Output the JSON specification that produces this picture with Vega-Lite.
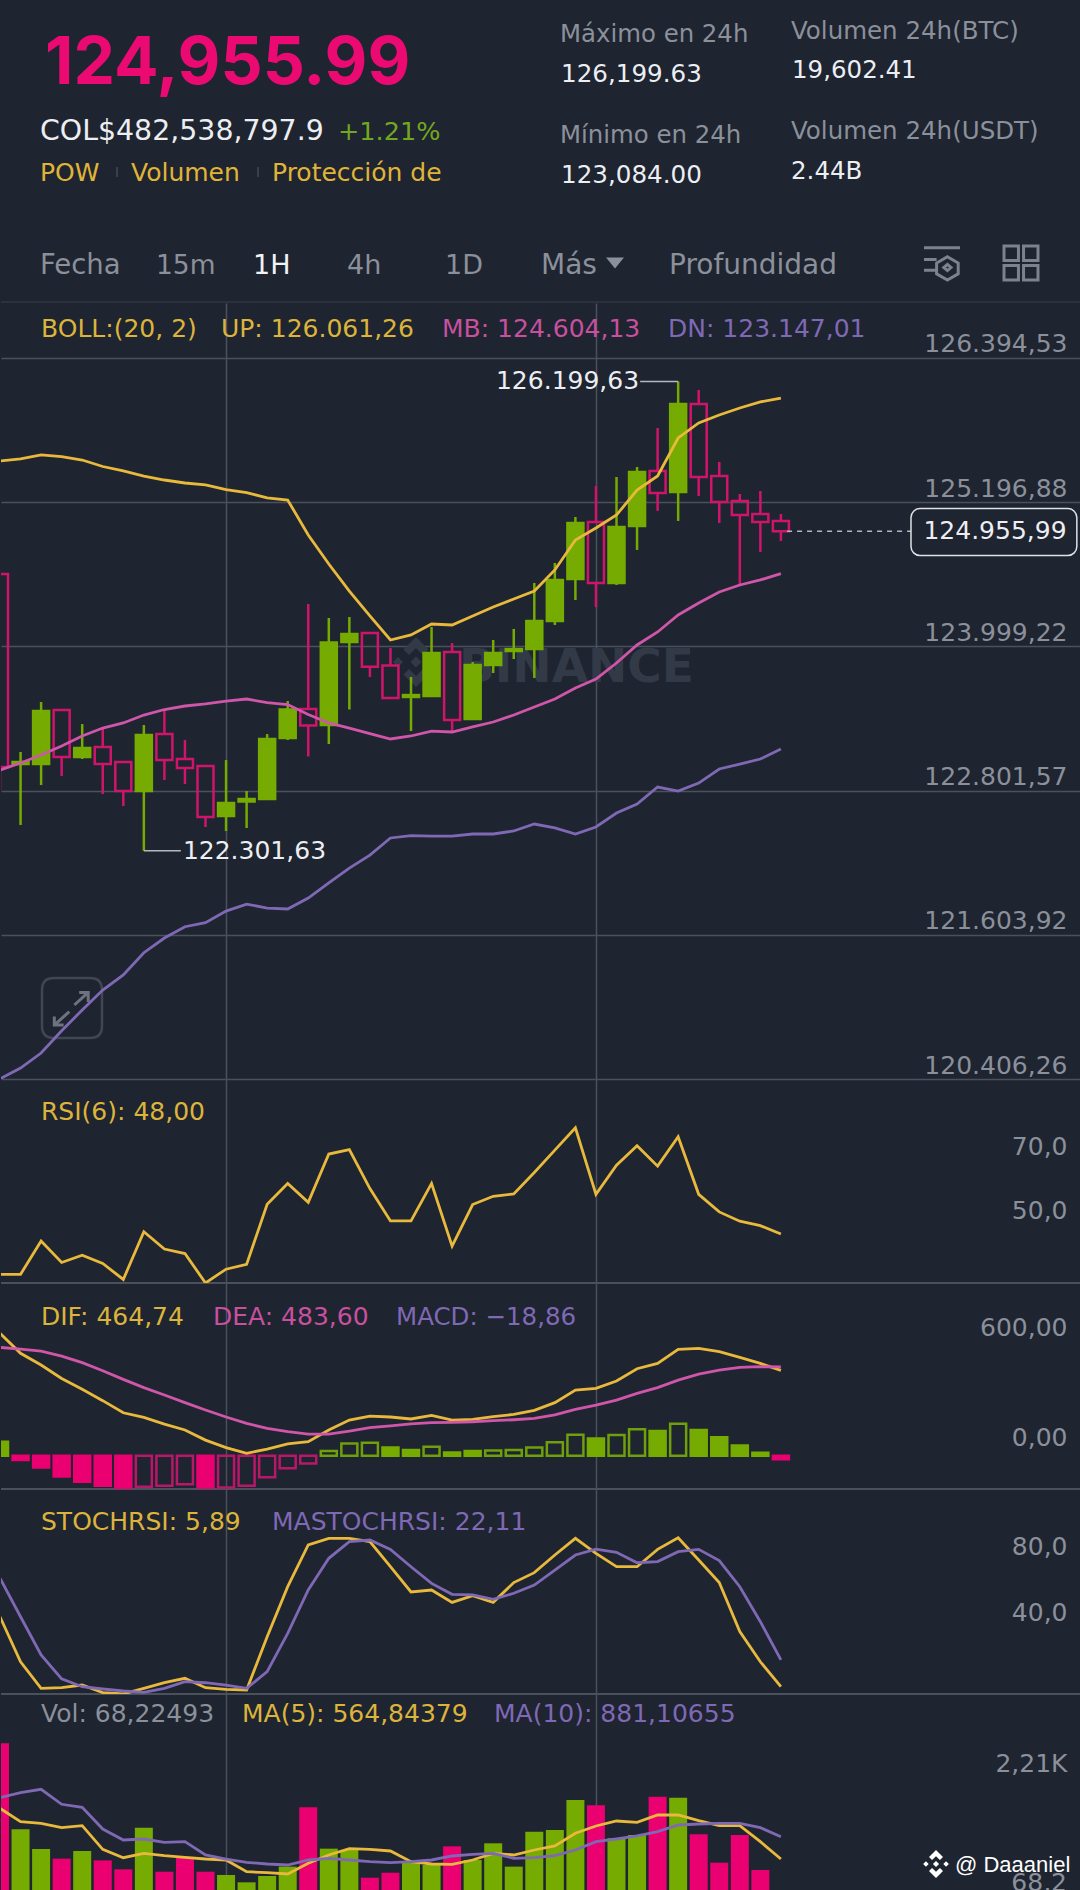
{
"$schema":"https://vega.github.io/schema/vega-lite/v6.json",
"background":"#1e2430",
"padding":0,
"spacing":0,
"bounds":"flush",
"config":{
 "view":{"stroke":null},
 "locale":{"number":{"decimal":",","thousands":".","grouping":[3],"currency":["",""]}},
 "text":{"font":"DejaVu Sans","fontSize":25,"align":"left","baseline":"alphabetic"},
 "axis":{"labelFont":"DejaVu Sans","labelFontSize":25,"labelColor":"#8b909a","domain":false,"ticks":false,"gridColor":"#4b515c","gridWidth":1.5,"labelOverlap":false,"labelFlush":false,"labelBound":false}
},
"resolve":{"scale":{"fill":"independent","stroke":"independent"}},
"datasets":{
"candles":[
{"t":0,"high":124600,"top":124600,"bot":122997,"low":122806,"dir":"down","boll_up":125539,"boll_mb":122972,"boll_dn":120408},
{"t":1,"high":123122,"top":123039,"bot":123022,"low":122516,"dir":"up","boll_up":125556,"boll_mb":123031,"boll_dn":120497},
{"t":2,"high":123537,"top":123462,"bot":123022,"low":122848,"dir":"up","boll_up":125589,"boll_mb":123097,"boll_dn":120622},
{"t":3,"high":123471,"top":123471,"bot":123080,"low":122923,"dir":"down","boll_up":125576,"boll_mb":123172,"boll_dn":120807},
{"t":4,"high":123354,"top":123155,"bot":123080,"low":123064,"dir":"up","boll_up":125547,"boll_mb":123255,"boll_dn":120979},
{"t":5,"high":123330,"top":123163,"bot":123022,"low":122773,"dir":"down","boll_up":125493,"boll_mb":123321,"boll_dn":121145},
{"t":6,"high":123039,"top":123039,"bot":122798,"low":122673,"dir":"down","boll_up":125456,"boll_mb":123363,"boll_dn":121270},
{"t":7,"high":123346,"top":123263,"bot":122798,"low":122301.63,"dir":"up","boll_up":125414,"boll_mb":123429,"boll_dn":121455},
{"t":8,"high":123471,"top":123271,"bot":123055,"low":122889,"dir":"down","boll_up":125381,"boll_mb":123475,"boll_dn":121577},
{"t":9,"high":123222,"top":123064,"bot":122989,"low":122856,"dir":"down","boll_up":125356,"boll_mb":123504,"boll_dn":121671},
{"t":10,"high":123014,"top":123006,"bot":122582,"low":122499,"dir":"down","boll_up":125340,"boll_mb":123521,"boll_dn":121704},
{"t":11,"high":123055,"top":122698,"bot":122590,"low":122466,"dir":"up","boll_up":125302,"boll_mb":123545,"boll_dn":121801},
{"t":12,"high":122798,"top":122732,"bot":122711,"low":122491,"dir":"up","boll_up":125277,"boll_mb":123562,"boll_dn":121859},
{"t":13,"high":123271,"top":123230,"bot":122732,"low":122730,"dir":"up","boll_up":125232,"boll_mb":123532,"boll_dn":121826},
{"t":14,"high":123545,"top":123475,"bot":123238,"low":123222,"dir":"up","boll_up":125215,"boll_mb":123516,"boll_dn":121818},
{"t":15,"high":124351,"top":123479,"bot":123342,"low":123085,"dir":"down","boll_up":124924,"boll_mb":123433,"boll_dn":121909},
{"t":16,"high":124235,"top":124031,"bot":123346,"low":123188,"dir":"up","boll_up":124683,"boll_mb":123363,"boll_dn":122036},
{"t":17,"high":124243,"top":124102,"bot":124036,"low":123475,"dir":"up","boll_up":124459,"boll_mb":123321,"boll_dn":122158},
{"t":18,"high":124119,"top":124110,"bot":123831,"low":123745,"dir":"down","boll_up":124252,"boll_mb":123275,"boll_dn":122266},
{"t":19,"high":123986,"top":123840,"bot":123570,"low":123562,"dir":"down","boll_up":124052,"boll_mb":123230,"boll_dn":122408},
{"t":20,"high":123745,"top":123595,"bot":123579,"low":123296,"dir":"up","boll_up":124094,"boll_mb":123255,"boll_dn":122427},
{"t":21,"high":124160,"top":123944,"bot":123587,"low":123583,"dir":"up","boll_up":124185,"boll_mb":123296,"boll_dn":122424},
{"t":22,"high":124027,"top":123952,"bot":123388,"low":123296,"dir":"down","boll_up":124177,"boll_mb":123288,"boll_dn":122424},
{"t":23,"high":123869,"top":123845,"bot":123396,"low":123392,"dir":"up","boll_up":124252,"boll_mb":123330,"boll_dn":122441},
{"t":24,"high":124052,"top":123944,"bot":123845,"low":123778,"dir":"up","boll_up":124326,"boll_mb":123371,"boll_dn":122441},
{"t":25,"high":124144,"top":123977,"bot":123961,"low":123894,"dir":"up","boll_up":124393,"boll_mb":123429,"boll_dn":122466},
{"t":26,"high":124526,"top":124210,"bot":123977,"low":123737,"dir":"up","boll_up":124459,"boll_mb":123496,"boll_dn":122524},
{"t":27,"high":124692,"top":124551,"bot":124210,"low":124177,"dir":"up","boll_up":124634,"boll_mb":123562,"boll_dn":122491},
{"t":28,"high":125074,"top":125024,"bot":124559,"low":124384,"dir":"up","boll_up":124883,"boll_mb":123653,"boll_dn":122441},
{"t":29,"high":125331,"top":125032,"bot":124526,"low":124326,"dir":"down","boll_up":124982,"boll_mb":123728,"boll_dn":122499},
{"t":30,"high":125406,"top":124991,"bot":124526,"low":124509,"dir":"up","boll_up":125090,"boll_mb":123861,"boll_dn":122615},
{"t":31,"high":125489,"top":125448,"bot":124999,"low":124800,"dir":"up","boll_up":125298,"boll_mb":124011,"boll_dn":122690},
{"t":32,"high":125813,"top":125456,"bot":125273,"low":125124,"dir":"down","boll_up":125414,"boll_mb":124119,"boll_dn":122831},
{"t":33,"high":126199.63,"top":126012,"bot":125281,"low":125041,"dir":"up","boll_up":125730,"boll_mb":124260,"boll_dn":122798},
{"t":34,"high":126129,"top":126012,"bot":125406,"low":125248,"dir":"down","boll_up":125855,"boll_mb":124359,"boll_dn":122864},
{"t":35,"high":125531,"top":125414,"bot":125198,"low":125024,"dir":"down","boll_up":125921,"boll_mb":124451,"boll_dn":122981},
{"t":36,"high":125265,"top":125207,"bot":125090,"low":124509,"dir":"down","boll_up":125979,"boll_mb":124509,"boll_dn":123022},
{"t":37,"high":125290,"top":125099,"bot":125032,"low":124783,"dir":"down","boll_up":126029,"boll_mb":124551,"boll_dn":123064},
{"t":38,"high":125099,"top":125041,"bot":124955.99,"low":124874,"dir":"down","boll_up":126061.26,"boll_mb":124604.13,"boll_dn":123147.01}
],
"rsi":[
{"t":0,"rsi":35.4},{"t":1,"rsi":35.4},{"t":2,"rsi":45.8},{"t":3,"rsi":39.1},{"t":4,"rsi":41.4},{"t":5,"rsi":38.8},{"t":6,"rsi":33.8},{"t":7,"rsi":48.7},{"t":8,"rsi":43.3},{"t":9,"rsi":41.9},
{"t":10,"rsi":32.7},{"t":11,"rsi":37},{"t":12,"rsi":38.5},{"t":13,"rsi":57.3},{"t":14,"rsi":63.8},{"t":15,"rsi":57.9},{"t":16,"rsi":73},{"t":17,"rsi":74.4},{"t":18,"rsi":62.2},{"t":19,"rsi":52.1},
{"t":20,"rsi":52.1},{"t":21,"rsi":63.8},{"t":22,"rsi":44.2},{"t":23,"rsi":57.2},{"t":24,"rsi":59.8},{"t":25,"rsi":60.5},{"t":26,"rsi":67.2},{"t":27,"rsi":74.2},{"t":28,"rsi":81.2},{"t":29,"rsi":60.4},
{"t":30,"rsi":69.5},{"t":31,"rsi":75.6},{"t":32,"rsi":69.2},{"t":33,"rsi":78.4},{"t":34,"rsi":60.4},{"t":35,"rsi":54.9},{"t":36,"rsi":52},{"t":37,"rsi":50.6},{"t":38,"rsi":48}
],
"macd":[
{"t":0,"macd":76,"kind":"pos_fall","dif":667,"dea":590},{"t":1,"macd":-24,"kind":"neg_fall","dif":558,"dea":581},{"t":2,"macd":-64,"kind":"neg_fall","dif":494,"dea":570},{"t":3,"macd":-114,"kind":"neg_fall","dif":421,"dea":543},
{"t":4,"macd":-142,"kind":"neg_fall","dif":362,"dea":507},{"t":5,"macd":-164,"kind":"neg_fall","dif":300,"dea":463},{"t":6,"macd":-180,"kind":"neg_fall","dif":234,"dea":416},{"t":7,"macd":-169,"kind":"neg_rise","dif":209,"dea":371},
{"t":8,"macd":-164,"kind":"neg_rise","dif":172,"dea":331},{"t":9,"macd":-156,"kind":"neg_rise","dif":140,"dea":289},{"t":10,"macd":-173,"kind":"neg_fall","dif":85,"dea":249},{"t":11,"macd":-174,"kind":"neg_rise","dif":44,"dea":211},
{"t":12,"macd":-164,"kind":"neg_rise","dif":13,"dea":176},{"t":13,"macd":-118,"kind":"neg_rise","dif":36,"dea":149},{"t":14,"macd":-69,"kind":"neg_rise","dif":64,"dea":131},{"t":15,"macd":-42,"kind":"neg_rise","dif":76,"dea":118},
{"t":16,"macd":25,"kind":"pos_rise","dif":140,"dea":118},{"t":17,"macd":67,"kind":"pos_rise","dif":194,"dea":134},{"t":18,"macd":71,"kind":"pos_rise","dif":216,"dea":153},{"t":19,"macd":45,"kind":"pos_fall","dif":211,"dea":163},
{"t":20,"macd":31,"kind":"pos_fall","dif":200,"dea":173},{"t":21,"macd":49,"kind":"pos_rise","dif":220,"dea":180},{"t":22,"macd":18,"kind":"pos_fall","dif":194,"dea":182},{"t":23,"macd":25,"kind":"pos_fall","dif":198,"dea":185},
{"t":24,"macd":29,"kind":"pos_rise","dif":213,"dea":191},{"t":25,"macd":31,"kind":"pos_rise","dif":225,"dea":196},{"t":26,"macd":45,"kind":"pos_rise","dif":247,"dea":203},{"t":27,"macd":73,"kind":"pos_rise","dif":289,"dea":222},
{"t":28,"macd":114,"kind":"pos_rise","dif":358,"dea":252},{"t":29,"macd":94,"kind":"pos_fall","dif":367,"dea":276},{"t":30,"macd":113,"kind":"pos_rise","dif":407,"dea":303},{"t":31,"macd":144,"kind":"pos_rise","dif":474,"dea":340},
{"t":32,"macd":134,"kind":"pos_fall","dif":503,"dea":371},{"t":33,"macd":174,"kind":"pos_rise","dif":580,"dea":412},{"t":34,"macd":140,"kind":"pos_fall","dif":585,"dea":445},{"t":35,"macd":100,"kind":"pos_fall","dif":567,"dea":467},
{"t":36,"macd":56,"kind":"pos_fall","dif":536,"dea":481},{"t":37,"macd":16,"kind":"pos_fall","dif":503,"dea":485},{"t":38,"macd":-18.86,"kind":"neg_fall","dif":464.74,"dea":483.6}
],
"stoch":[
{"t":0,"k":48.3,"ma":71.6},{"t":1,"k":21,"ma":48.3},{"t":2,"k":4.9,"ma":25.1},{"t":3,"k":5.3,"ma":10.6},{"t":4,"k":6.9,"ma":5.9},{"t":5,"k":2.3,"ma":4.5},{"t":6,"k":1.5,"ma":3.3},{"t":7,"k":4.9,"ma":2.5},
{"t":8,"k":8.3,"ma":4.9},{"t":9,"k":11,"ma":9},{"t":10,"k":5.3,"ma":8.3},{"t":11,"k":4.3,"ma":6.9},{"t":12,"k":3.9,"ma":4.9},{"t":13,"k":36.2,"ma":15},{"t":14,"k":66.5,"ma":38.2},{"t":15,"k":91.8,"ma":64.5},
{"t":16,"k":95.8,"ma":83.7},{"t":17,"k":95.8,"ma":93.8},{"t":18,"k":93.8,"ma":94.8},{"t":19,"k":78.6,"ma":89.1},{"t":20,"k":63.3,"ma":78.6},{"t":21,"k":64.5,"ma":68.5},{"t":22,"k":57,"ma":61.9},{"t":23,"k":61.1,"ma":61.5},
{"t":24,"k":57,"ma":58.8},{"t":25,"k":69,"ma":62.5},{"t":26,"k":75,"ma":67.5},{"t":27,"k":85.7,"ma":76.6},{"t":28,"k":95.8,"ma":85.7},{"t":29,"k":86.7,"ma":89.3},{"t":30,"k":78.6,"ma":87.3},{"t":31,"k":78.6,"ma":81},
{"t":32,"k":89.1,"ma":81.7},{"t":33,"k":96.2,"ma":87.7},{"t":34,"k":82.7,"ma":89.1},{"t":35,"k":69,"ma":82.3},{"t":36,"k":39.3,"ma":66.5},{"t":37,"k":21,"ma":45.3},{"t":38,"k":5.89,"ma":22.11}
],
"volume":[
{"t":0,"vol":2210,"dir":"down","ma5":1285,"ma10":1436},{"t":1,"vol":987,"dir":"up","ma5":1095,"ma10":1507},{"t":2,"vol":707,"dir":"up","ma5":1072,"ma10":1555},{"t":3,"vol":570,"dir":"down","ma5":1010,"ma10":1342},
{"t":4,"vol":679,"dir":"up","ma5":1039,"ma10":1299},{"t":5,"vol":546,"dir":"down","ma5":703,"ma10":991},{"t":6,"vol":419,"dir":"down","ma5":584,"ma10":835},{"t":7,"vol":1010,"dir":"up","ma5":646,"ma10":849},
{"t":8,"vol":385,"dir":"down","ma5":613,"ma10":802},{"t":9,"vol":589,"dir":"down","ma5":589,"ma10":811},{"t":10,"vol":385,"dir":"down","ma5":565,"ma10":622},{"t":11,"vol":338,"dir":"up","ma5":551,"ma10":565},
{"t":12,"vol":234,"dir":"up","ma5":385,"ma10":518},{"t":13,"vol":324,"dir":"up","ma5":371,"ma10":494},{"t":14,"vol":457,"dir":"up","ma5":352,"ma10":480},{"t":15,"vol":1299,"dir":"down","ma5":504,"ma10":551},
{"t":16,"vol":712,"dir":"up","ma5":622,"ma10":575},{"t":17,"vol":693,"dir":"up","ma5":712,"ma10":551},{"t":18,"vol":300,"dir":"down","ma5":703,"ma10":527},{"t":19,"vol":371,"dir":"down","ma5":679,"ma10":513},
{"t":20,"vol":527,"dir":"up","ma5":527,"ma10":527},{"t":21,"vol":480,"dir":"up","ma5":494,"ma10":551},{"t":22,"vol":745,"dir":"down","ma5":490,"ma10":608},{"t":23,"vol":551,"dir":"up","ma5":551,"ma10":632},
{"t":24,"vol":788,"dir":"up","ma5":646,"ma10":646},{"t":25,"vol":457,"dir":"up","ma5":622,"ma10":575},{"t":26,"vol":953,"dir":"up","ma5":693,"ma10":584},{"t":27,"vol":977,"dir":"up","ma5":750,"ma10":613},
{"t":28,"vol":1403,"dir":"up","ma5":930,"ma10":693},{"t":29,"vol":1327,"dir":"down","ma5":1034,"ma10":811},{"t":30,"vol":859,"dir":"up","ma5":1105,"ma10":849},{"t":31,"vol":906,"dir":"up","ma5":1086,"ma10":892},
{"t":32,"vol":1450,"dir":"down","ma5":1190,"ma10":954},{"t":33,"vol":1436,"dir":"up","ma5":1190,"ma10":1048},{"t":34,"vol":916,"dir":"down","ma5":1110,"ma10":1062},{"t":35,"vol":513,"dir":"down","ma5":1039,"ma10":1072},
{"t":36,"vol":906,"dir":"down","ma5":1039,"ma10":1072},{"t":37,"vol":409,"dir":"down","ma5":811,"ma10":1010},{"t":38,"vol":68.22,"dir":"down","ma5":564.84,"ma10":881.11}
]
},
"vconcat":[
{
"width":1080,"height":303,
"data":{"values":[{}]},
"layer":[
{"mark":{"type":"text","text":"124,955.99","x":44,"y":84,"font":"Inter","fontSize":66,"fontWeight":700,"color":"#ea0a72"}},
{"mark":{"type":"text","text":"COL$482,538,797.9","x":39,"y":140,"fontSize":28.4,"color":"#eceef2"}},
{"mark":{"type":"text","text":"+1.21%","x":337,"y":140,"fontSize":25.5,"color":"#72a820"}},
{"mark":{"type":"text","text":"POW","x":39,"y":181,"color":"#e0b537"}},
{"mark":{"type":"text","text":"Volumen","x":130,"y":181,"color":"#e0b537"}},
{"mark":{"type":"text","text":"Protección de","x":271,"y":181,"color":"#e0b537"}},
{"mark":{"type":"rule","color":"#3a404b","strokeWidth":2},"encoding":{"x":{"value":116},"y":{"value":167},"y2":{"value":177}}},
{"mark":{"type":"rule","color":"#3a404b","strokeWidth":2},"encoding":{"x":{"value":257},"y":{"value":167},"y2":{"value":177}}},
{"mark":{"type":"text","text":"Máximo en 24h","x":559,"y":42,"fontSize":24.4,"color":"#8b909a"}},
{"mark":{"type":"text","text":"126,199.63","x":560,"y":82,"fontSize":24.6,"color":"#eceef2"}},
{"mark":{"type":"text","text":"Mínimo en 24h","x":559,"y":143,"fontSize":24.4,"color":"#8b909a"}},
{"mark":{"type":"text","text":"123,084.00","x":560,"y":183,"fontSize":24.6,"color":"#eceef2"}},
{"mark":{"type":"text","text":"Volumen 24h(BTC)","x":790,"y":39,"fontSize":24.5,"color":"#8b909a"}},
{"mark":{"type":"text","text":"19,602.41","x":791,"y":78,"fontSize":24.5,"color":"#eceef2"}},
{"mark":{"type":"text","text":"Volumen 24h(USDT)","x":790,"y":139,"fontSize":24.5,"color":"#8b909a"}},
{"mark":{"type":"text","text":"2.44B","x":790,"y":179,"fontSize":24.5,"color":"#eceef2"}},
{"mark":{"type":"text","text":"Fecha","x":39,"y":274,"fontSize":27.5,"color":"#8b909a"}},
{"mark":{"type":"text","text":"15m","x":155,"y":274,"fontSize":26.5,"color":"#8b909a"}},
{"mark":{"type":"text","text":"1H","x":252,"y":274,"fontSize":27,"color":"#f2f3f5"}},
{"mark":{"type":"text","text":"4h","x":346,"y":274,"fontSize":27,"color":"#8b909a"}},
{"mark":{"type":"text","text":"1D","x":444,"y":274,"fontSize":27,"color":"#8b909a"}},
{"mark":{"type":"text","text":"Más","x":540,"y":274,"fontSize":28,"color":"#8b909a"}},
{"mark":{"type":"text","text":"Profundidad","x":668,"y":274,"fontSize":28,"color":"#8b909a"}},
{"mark":{"type":"point","shape":"M-1,-.6 L1,-.6 L0,.6 Z","x":614,"y":263,"size":324,"filled":true,"opacity":1,"color":"#8b909a"}},
{"mark":{"type":"point","shape":"M-1,-.85 H1 M-1,-.2 H-.3 M-1,.4 H-.3 M.3,-.35 L.9,0 L.9,.6 L.3,.95 L-.3,.6 L-.3,0 Z M.3,.08 L.5,.25 L.3,.42 L.1,.25 Z","x":941,"y":263,"size":1296,"filled":false,"opacity":1,"strokeWidth":3,"color":"#7d828c"}},
{"mark":{"type":"point","shape":"M-1,-1 H-.15 V-.15 H-1 Z M.15,-1 H1 V-.15 H.15 Z M-1,.15 H-.15 V1 H-1 Z M.15,.15 H1 V1 H.15 Z","x":1020,"y":263,"size":1156,"filled":false,"opacity":1,"strokeWidth":3,"color":"#7d828c"}},
{"mark":{"type":"rule","color":"#2c323d","strokeWidth":2},"encoding":{"y":{"value":302}}}
]
},
{
"width":1080,"height":776,
"layer":[
{"data":{"values":[{}]},"layer":[
 {"mark":{"type":"text","text":"BINANCE","x":458,"y":379,"fontSize":47,"fontWeight":700,"color":"#333a47"}},
 {"mark":{"type":"point","shape":"M0,-.22 L.22,0 L0,.22 L-.22,0 Z M-.72,-.2 L-.52,0 L-.72,.2 L-.92,0 Z M.72,-.2 L.92,0 L.72,.2 L.52,0 Z M0,-1 L.5,-.5 L.28,-.28 L0,-.56 L-.28,-.28 L-.5,-.5 Z M0,1 L.5,.5 L.28,.28 L0,.56 L-.28,.28 L-.5,.5 Z","x":415,"y":359,"size":2500,"filled":true,"opacity":1,"color":"#333a47"}},
 {"mark":{"type":"point","shape":"M-.6,-1 L.6,-1 Q1,-1 1,-.6 L1,.6 Q1,1 .6,1 L-.6,1 Q-1,1 -1,.6 L-1,-.6 Q-1,-1 -.6,-1 Z","x":71,"y":705,"size":3600,"filled":false,"opacity":1,"strokeWidth":2.5,"color":"#414752"}},
 {"mark":{"type":"point","shape":"M-.59,.57 L-.09,.12 M-.59,.28 L-.59,.57 L-.28,.57 M.54,-.52 L.08,-.1 M.24,-.52 L.54,-.52 L.54,-.2","x":71,"y":705,"size":3600,"filled":false,"opacity":1,"strokeWidth":3,"color":"#6e737d"}}
]},
{"data":{"name":"candles"},"layer":[
 {"mark":{"type":"rule","strokeWidth":2.5,"clip":true},"encoding":{
  "x":{"field":"t","type":"quantitative","scale":{"domain":[0.0487,52.603],"nice":false,"zero":false,"padding":0},"axis":{"values":[11,29],"grid":true,"labels":false,"title":null}},
  "y":{"field":"high","type":"quantitative","scale":{"domain":[120406.26,126851],"nice":false,"zero":false},"axis":{"orient":"right","values":[126394.53,125196.88,123999.22,122801.57,121603.92,120406.26],"format":",.2f","grid":true,"labelAlign":"right","labelPadding":-14,"labelOffset":-14,"title":null}},
  "y2":{"field":"top"},
  "stroke":{"field":"dir","type":"nominal","scale":{"domain":["down","up"],"range":["#d0146c","#76ab02"]},"legend":null}}},
 {"mark":{"type":"rule","strokeWidth":2.5,"clip":true},"encoding":{
  "x":{"field":"t","type":"quantitative","scale":{"domain":[0.0487,52.603],"nice":false,"zero":false,"padding":0}},
  "y":{"field":"bot","type":"quantitative","scale":{"domain":[120406.26,126851],"nice":false,"zero":false}},
  "y2":{"field":"low"},
  "stroke":{"field":"dir","type":"nominal","scale":{"domain":["down","up"],"range":["#d0146c","#76ab02"]},"legend":null}}},
 {"mark":{"type":"bar","orient":"vertical","size":16,"strokeWidth":2.5,"clip":true},"encoding":{
  "x":{"field":"t","type":"quantitative","scale":{"domain":[0.0487,52.603],"nice":false,"zero":false,"padding":0}},
  "y":{"field":"top","type":"quantitative","scale":{"domain":[120406.26,126851],"nice":false,"zero":false}},
  "y2":{"field":"bot"},
  "fill":{"field":"dir","type":"nominal","scale":{"domain":["down","up"],"range":["transparent","#76ab02"]},"legend":null},
  "stroke":{"field":"dir","type":"nominal","scale":{"domain":["down","up"],"range":["#d0146c","#76ab02"]},"legend":null}}},
 {"mark":{"type":"line","color":"#e8b93c","strokeWidth":2.8,"clip":true},"encoding":{
  "x":{"field":"t","type":"quantitative","scale":{"domain":[0.0487,52.603],"nice":false,"zero":false,"padding":0}},
  "y":{"field":"boll_up","type":"quantitative","scale":{"domain":[120406.26,126851],"nice":false,"zero":false}}}},
 {"mark":{"type":"line","color":"#cf56a8","strokeWidth":2.8,"clip":true},"encoding":{
  "x":{"field":"t","type":"quantitative","scale":{"domain":[0.0487,52.603],"nice":false,"zero":false,"padding":0}},
  "y":{"field":"boll_mb","type":"quantitative","scale":{"domain":[120406.26,126851],"nice":false,"zero":false}}}},
 {"mark":{"type":"line","color":"#7f69b5","strokeWidth":2.8,"clip":true},"encoding":{
  "x":{"field":"t","type":"quantitative","scale":{"domain":[0.0487,52.603],"nice":false,"zero":false,"padding":0}},
  "y":{"field":"boll_dn","type":"quantitative","scale":{"domain":[120406.26,126851],"nice":false,"zero":false}}}}
]},
{"data":{"values":[{"price":126199.63}]},"layer":[
 {"mark":{"type":"rule","color":"#b4b8bf","strokeWidth":1.5},"encoding":{
  "x":{"datum":31.15,"type":"quantitative","scale":{"domain":[0.0487,52.603],"nice":false,"zero":false,"padding":0}},"x2":{"datum":33},
  "y":{"field":"price","type":"quantitative","scale":{"domain":[120406.26,126851],"nice":false,"zero":false}}}},
 {"mark":{"type":"text","align":"right","baseline":"middle","color":"#eceef2"},"encoding":{
  "x":{"datum":31.1,"type":"quantitative","scale":{"domain":[0.0487,52.603],"nice":false,"zero":false,"padding":0}},
  "y":{"field":"price","type":"quantitative","scale":{"domain":[120406.26,126851],"nice":false,"zero":false}},
  "text":{"field":"price","type":"quantitative","format":",.2f"}}}
]},
{"data":{"values":[{"price":122301.63}]},"layer":[
 {"mark":{"type":"rule","color":"#b4b8bf","strokeWidth":1.5},"encoding":{
  "x":{"datum":7,"type":"quantitative","scale":{"domain":[0.0487,52.603],"nice":false,"zero":false,"padding":0}},"x2":{"datum":8.8},
  "y":{"field":"price","type":"quantitative","scale":{"domain":[120406.26,126851],"nice":false,"zero":false}}}},
 {"mark":{"type":"text","align":"left","baseline":"middle","color":"#eceef2"},"encoding":{
  "x":{"datum":8.9,"type":"quantitative","scale":{"domain":[0.0487,52.603],"nice":false,"zero":false,"padding":0}},
  "y":{"field":"price","type":"quantitative","scale":{"domain":[120406.26,126851],"nice":false,"zero":false}},
  "text":{"field":"price","type":"quantitative","format":",.2f"}}}
]},
{"data":{"values":[{"price":124955.99}]},"layer":[
 {"mark":{"type":"rule","color":"#b4b8bf","strokeWidth":1.5,"strokeDash":[5,5]},"encoding":{
  "x":{"datum":38.3,"type":"quantitative","scale":{"domain":[0.0487,52.603],"nice":false,"zero":false,"padding":0}},"x2":{"datum":44.33},
  "y":{"field":"price","type":"quantitative","scale":{"domain":[120406.26,126851],"nice":false,"zero":false}}}},
 {"mark":{"type":"rect","fill":"#1e2430","stroke":"#dfe1e5","strokeWidth":1.5,"cornerRadius":9},"encoding":{
  "x":{"datum":44.33,"type":"quantitative","scale":{"domain":[0.0487,52.603],"nice":false,"zero":false,"padding":0}},"x2":{"datum":52.4},
  "y":{"datum":125144,"type":"quantitative","scale":{"domain":[120406.26,126851],"nice":false,"zero":false}},"y2":{"datum":124754}}},
 {"mark":{"type":"text","align":"right","baseline":"middle","color":"#eceef2"},"encoding":{
  "x":{"datum":51.9,"type":"quantitative","scale":{"domain":[0.0487,52.603],"nice":false,"zero":false,"padding":0}},
  "y":{"field":"price","type":"quantitative","scale":{"domain":[120406.26,126851],"nice":false,"zero":false}},
  "text":{"field":"price","type":"quantitative","format":",.2f"}}}
]},
{"data":{"values":[{}]},"layer":[
 {"mark":{"type":"text","text":"BOLL:(20, 2)","x":40,"y":34,"color":"#dcb43c"}},
 {"mark":{"type":"text","text":"UP: 126.061,26","x":220,"y":34,"color":"#dcb43c"}},
 {"mark":{"type":"text","text":"MB: 124.604,13","x":441,"y":34,"color":"#c8509f"}},
 {"mark":{"type":"text","text":"DN: 123.147,01","x":667,"y":34,"color":"#7f69b5"}}
]}
]
},
{
"width":1080,"height":204,
"layer":[
{"data":{"name":"rsi"},"layer":[
 {"mark":{"type":"rule","color":"#4b515c","strokeWidth":1.5},"encoding":{
  "y":{"datum":32.69,"type":"quantitative","scale":{"domain":[32.69,96.44],"nice":false,"zero":false},"axis":{"orient":"right","values":[70,50],"format":".1f","grid":false,"labelAlign":"right","labelPadding":-14,"labelOffset":-17.6,"title":null}}}},
 {"mark":{"type":"line","color":"#e8b93c","strokeWidth":2.8,"clip":true},"encoding":{
  "x":{"field":"t","type":"quantitative","scale":{"domain":[0.0487,52.603],"nice":false,"zero":false,"padding":0},"axis":{"values":[11,29],"grid":true,"labels":false,"title":null}},
  "y":{"field":"rsi","type":"quantitative","scale":{"domain":[32.69,96.44],"nice":false,"zero":false}}}}
]},
{"data":{"values":[{}]},"mark":{"type":"text","text":"RSI(6): 48,00","x":40,"y":41,"color":"#dcb43c"}}
]
},
{
"width":1080,"height":206,
"layer":[
{"data":{"name":"macd"},"layer":[
 {"mark":{"type":"rule","color":"#4b515c","strokeWidth":1.5},"encoding":{
  "y":{"datum":-181.5,"type":"quantitative","scale":{"domain":[-181.5,941.2],"nice":false,"zero":false},"axis":{"orient":"right","values":[600,0],"format":".2f","grid":false,"labelAlign":"right","labelPadding":-14,"labelOffset":-18,"title":null}}}},
 {"mark":{"type":"bar","orient":"vertical","size":16,"strokeWidth":2.5,"clip":true},"encoding":{
  "x":{"field":"t","type":"quantitative","scale":{"domain":[0.0487,52.603],"nice":false,"zero":false,"padding":0},"axis":{"values":[11,29],"grid":true,"labels":false,"title":null}},
  "y":{"field":"macd","type":"quantitative","stack":null,"scale":{"domain":[-181.5,941.2],"nice":false,"zero":false}},
  "fill":{"field":"kind","type":"nominal","scale":{"domain":["pos_rise","pos_fall","neg_rise","neg_fall"],"range":["transparent","#76ab02","transparent","#ea0070"]},"legend":null},
  "stroke":{"field":"kind","type":"nominal","scale":{"domain":["pos_rise","pos_fall","neg_rise","neg_fall"],"range":["#6f9f0a","#76ab02","#b8176a","#ea0070"]},"legend":null}}},
 {"mark":{"type":"line","color":"#e8b93c","strokeWidth":2.8,"clip":true},"encoding":{
  "x":{"field":"t","type":"quantitative","scale":{"domain":[0.0487,52.603],"nice":false,"zero":false,"padding":0}},
  "y":{"field":"dif","type":"quantitative","scale":{"domain":[-181.5,941.2],"nice":false,"zero":false}}}},
 {"mark":{"type":"line","color":"#cf56a8","strokeWidth":2.8,"clip":true},"encoding":{
  "x":{"field":"t","type":"quantitative","scale":{"domain":[0.0487,52.603],"nice":false,"zero":false,"padding":0}},
  "y":{"field":"dea","type":"quantitative","scale":{"domain":[-181.5,941.2],"nice":false,"zero":false}}}}
]},
{"data":{"values":[{}]},"layer":[
 {"mark":{"type":"text","text":"DIF: 464,74","x":40,"y":42,"color":"#dcb43c"}},
 {"mark":{"type":"text","text":"DEA: 483,60","x":212,"y":42,"color":"#c8509f"}},
 {"mark":{"type":"text","text":"MACD: −18,86","x":395,"y":42,"fontSize":24.5,"color":"#7f69b5"}}
]}
]
},
{
"width":1080,"height":205,
"layer":[
{"data":{"name":"stoch"},"layer":[
 {"mark":{"type":"rule","color":"#4b515c","strokeWidth":1.5},"encoding":{
  "y":{"datum":1.47,"type":"quantitative","scale":{"domain":[1.47,125.7],"nice":false,"zero":false},"axis":{"orient":"right","values":[80,40],"format":".1f","grid":false,"labelAlign":"right","labelPadding":-14,"labelOffset":-17.7,"title":null}}}},
 {"mark":{"type":"line","color":"#e8b93c","strokeWidth":2.8,"clip":true},"encoding":{
  "x":{"field":"t","type":"quantitative","scale":{"domain":[0.0487,52.603],"nice":false,"zero":false,"padding":0},"axis":{"values":[11,29],"grid":true,"labels":false,"title":null}},
  "y":{"field":"k","type":"quantitative","scale":{"domain":[1.47,125.7],"nice":false,"zero":false}}}},
 {"mark":{"type":"line","color":"#7f69b5","strokeWidth":2.8,"clip":true},"encoding":{
  "x":{"field":"t","type":"quantitative","scale":{"domain":[0.0487,52.603],"nice":false,"zero":false,"padding":0}},
  "y":{"field":"ma","type":"quantitative","scale":{"domain":[1.47,125.7],"nice":false,"zero":false}}}}
]},
{"data":{"values":[{}]},"layer":[
 {"mark":{"type":"text","text":"STOCHRSI: 5,89","x":40,"y":41,"color":"#dcb43c"}},
 {"mark":{"type":"text","text":"MASTOCHRSI: 22,11","x":271,"y":41,"color":"#7f69b5"}}
]}
]
},
{
"width":1080,"height":196,
"layer":[
{"data":{"name":"volume"},"layer":[
 {"mark":{"type":"bar","orient":"vertical","size":18,"clip":true},"encoding":{
  "x":{"field":"t","type":"quantitative","scale":{"domain":[0.0487,52.603],"nice":false,"zero":false,"padding":0},"axis":{"values":[11,29],"grid":true,"labels":false,"title":null}},
  "y":{"field":"vol","type":"quantitative","stack":null,"scale":{"domain":[125,2908],"nice":false,"zero":false},"axis":{"orient":"right","values":[2210],"labelExpr":"'2,21K'","grid":false,"labelAlign":"right","labelPadding":-14,"labelOffset":20,"title":null}},
  "fill":{"field":"dir","type":"nominal","scale":{"domain":["down","up"],"range":["#ea0070","#76ab02"]},"legend":null}}},
 {"mark":{"type":"line","color":"#e8b93c","strokeWidth":2.8,"clip":true},"encoding":{
  "x":{"field":"t","type":"quantitative","scale":{"domain":[0.0487,52.603],"nice":false,"zero":false,"padding":0}},
  "y":{"field":"ma5","type":"quantitative","scale":{"domain":[125,2908],"nice":false,"zero":false}}}},
 {"mark":{"type":"line","color":"#7f69b5","strokeWidth":2.8,"clip":true},"encoding":{
  "x":{"field":"t","type":"quantitative","scale":{"domain":[0.0487,52.603],"nice":false,"zero":false,"padding":0}},
  "y":{"field":"ma10","type":"quantitative","scale":{"domain":[125,2908],"nice":false,"zero":false}}}}
]},
{"data":{"values":[{}]},"layer":[
 {"mark":{"type":"text","text":"68,2","x":1066,"y":197,"align":"right","color":"#8b909a"}},
 {"mark":{"type":"text","text":"Vol: 68,22493","x":40,"y":28,"color":"#8b909a"}},
 {"mark":{"type":"text","text":"MA(5): 564,84379","x":241,"y":28,"color":"#dcb43c"}},
 {"mark":{"type":"text","text":"MA(10): 881,10655","x":493,"y":28,"color":"#7f69b5"}},
 {"mark":{"type":"point","shape":"M0,-.22 L.22,0 L0,.22 L-.22,0 Z M-.72,-.2 L-.52,0 L-.72,.2 L-.92,0 Z M.72,-.2 L.92,0 L.72,.2 L.52,0 Z M0,-1 L.5,-.5 L.28,-.28 L0,-.56 L-.28,-.28 L-.5,-.5 Z M0,1 L.5,.5 L.28,.28 L0,.56 L-.28,.28 L-.5,.5 Z","x":935,"y":170,"size":784,"filled":true,"opacity":1,"color":"#ffffff"}},
 {"mark":{"type":"text","text":"@ Daaaniel","x":954,"y":178,"font":"Liberation Sans","fontSize":22,"color":"#ffffff"}}
]}
]
}
]
}
